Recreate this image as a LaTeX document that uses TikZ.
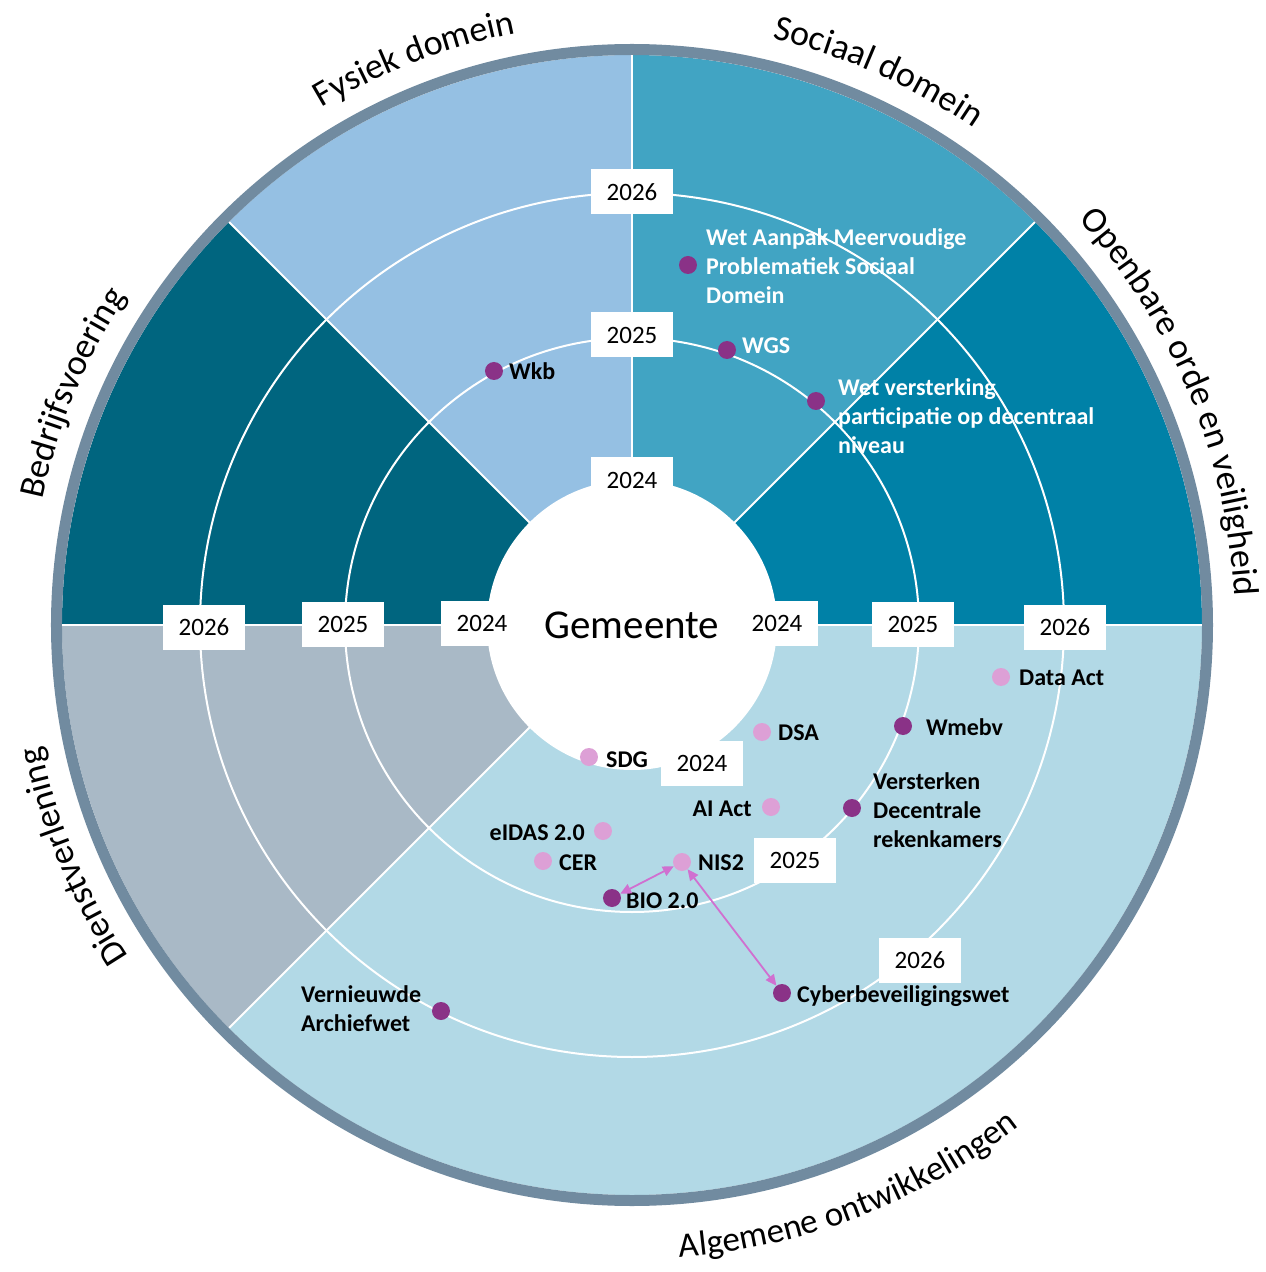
\documentclass[tikz,border=0pt]{standalone}
\usepackage{fontspec}
\setmainfont{Carlito}
\usetikzlibrary{arrows.meta,decorations.text}
\definecolor{cFys}{HTML}{95C0E3}
\definecolor{cSoc}{HTML}{41A4C3}
\definecolor{cOov}{HTML}{0081A7}
\definecolor{cBed}{HTML}{00657F}
\definecolor{cDie}{HTML}{A9B9C6}
\definecolor{cAlg}{HTML}{B2D9E6}
\definecolor{cRing}{HTML}{718BA0}
\definecolor{cDot}{HTML}{8A3287}
\definecolor{cPink}{HTML}{DDA0D6}
\definecolor{cArr}{HTML}{D070D0}
\begin{document}
\begin{tikzpicture}[x=1pt,y=1pt,
  yearbox/.style={fill=white, minimum width=82pt, minimum height=45pt, inner sep=0pt, font=\fontsize{25}{29}\selectfont},
  dotd/.style={circle, fill=cDot, minimum size=18pt, inner sep=0pt},
  dotp/.style={circle, fill=cPink, minimum size=18pt, inner sep=0pt},
  labone/.style={inner sep=0pt, font=\bfseries\fontsize{24}{29}\selectfont, text height=16pt, text depth=0pt},
  labmulti/.style={inner sep=0pt, font=\bfseries\fontsize{24}{29}\selectfont, align=left},
  divider/.style={white, line width=2pt},
  arr/.style={cArr, line width=1.8pt, {Triangle[length=11pt,width=10pt]}-{Triangle[length=11pt,width=10pt]}},
  outerlbl/.style={decorate, decoration={text along path, text align=center, text color=black, text={|\fontsize{36}{40}\selectfont|#1}}},
  outerlblb/.style={decorate, decoration={text along path, text align=center, text color=black, text={|\fontsize{35}{40}\selectfont|#1}}}
]
\useasboundingbox (-632,-647) rectangle (634,625);
% sectors
\fill[cOov] (0,0) -- (0:570) arc[start angle=0, end angle=45, radius=570] -- cycle;
\fill[cSoc] (0,0) -- (45:570) arc[start angle=45, end angle=90, radius=570] -- cycle;
\fill[cFys] (0,0) -- (90:570) arc[start angle=90, end angle=135, radius=570] -- cycle;
\fill[cBed] (0,0) -- (135:570) arc[start angle=135, end angle=180, radius=570] -- cycle;
\fill[cDie] (0,0) -- (180:570) arc[start angle=180, end angle=225, radius=570] -- cycle;
\fill[cAlg] (0,0) -- (225:570) arc[start angle=225, end angle=360, radius=570] -- cycle;
\foreach \a in {0,45,90,135,180,225} \draw[divider] (\a:140) -- (\a:570);
\draw[divider] (0,0) circle[radius=287];
\draw[divider] (0,0) circle[radius=432];
\fill[white] (0,0) circle[radius=145];
\draw[cRing, line width=11pt] (0,0) circle[radius=575.5];
% outer labels
\path[outerlbl={Fysiek domein}] (133.5:603) arc[start angle=133.5, end angle=88.5, radius=603];
\path[outerlbl={Sociaal domein}] (88.5:603) arc[start angle=88.5, end angle=43.5, radius=603];
\path[outerlbl={Openbare orde en veiligheid}] (45:603) arc[start angle=45, end angle=0, radius=603];
\path[outerlbl={Bedrijfsvoering}] (180:603) arc[start angle=180, end angle=135, radius=603];
\path[outerlbl={Dienstverlening}] (225:603) arc[start angle=225, end angle=180, radius=603];
\path[outerlblb={Algemene ontwikkelingen}] (223.5:634) arc[start angle=223.5, end angle=358.5, radius=634];
% centre
\node[font=\fontsize{41}{48}\selectfont, inner sep=0pt] (gem) at (0,0) {Gemeente};
% year boxes
\node[yearbox] (t26) at (0,433) {2026};
\node[yearbox] (t25) at (0,290) {2025};
\node[yearbox] (t24) at (0,145) {2024};
\node[yearbox] (l26) at (-428,-2) {2026};
\node[yearbox] (l25) at (-289,1) {2025};
\node[yearbox] (l24) at (-150,2) {2024};
\node[yearbox] (r24) at (145,2) {2024};
\node[yearbox] (r25) at (281,1) {2025};
\node[yearbox] (r26) at (433,-2) {2026};
\node[yearbox] (d24) at (70,-138) {2024};
\node[yearbox] (d25) at (163,-235) {2025};
\node[yearbox] (d26) at (288,-335) {2026};
% dots
\node[dotd] (wkb) at (-138,254) {};
\node[dotd] (wmpsd) at (56,360) {};
\node[dotd] (wgs) at (95,275) {};
\node[dotd] (wvp) at (184,224) {};
\node[dotd] (wmebv) at (271,-101) {};
\node[dotd] (vers) at (220,-183) {};
\node[dotd] (bio) at (-20,-273) {};
\node[dotd] (cyber) at (150,-368) {};
\node[dotd] (arch) at (-191,-386) {};
\node[dotp] (data) at (369,-52) {};
\node[dotp] (dsa) at (130,-107) {};
\node[dotp] (sdg) at (-43,-132) {};
\node[dotp] (ai) at (139,-182) {};
\node[dotp] (eidas) at (-29,-206) {};
\node[dotp] (cer) at (-89,-236) {};
\node[dotp] (nis) at (50,-237) {};
% labels
\node[labone, anchor=west] (wkbT) at (-123,253) {Wkb};
\node[labone, anchor=west, text=white] (wgsT) at (110,279) {WGS};
\node[labmulti, anchor=west, text=white] (wmpsdT) at (74,359) {Wet Aanpak Meervoudige\\Problematiek Sociaal\\Domein};
\node[labmulti, anchor=west, text=white] (wvpT) at (206,209) {Wet versterking\\participatie op decentraal\\niveau};
\node[labone, anchor=west] (wmebvT) at (294,-102) {Wmebv};
\node[labmulti, anchor=west] (versT) at (241,-185) {Versterken\\Decentrale\\rekenkamers};
\node[labone, anchor=west] (bioT) at (-6,-275) {BIO 2.0};
\node[labone, anchor=west] (cyberT) at (165,-369) {Cyberbeveiligingswet};
\node[labmulti, anchor=west] (archT) at (-331,-383.5) {Vernieuwde\\Archiefwet};
\node[labone, anchor=west] (dataT) at (387,-52) {Data Act};
\node[labone, anchor=west] (dsaT) at (146,-107) {DSA};
\node[labone, anchor=west] (sdgT) at (-26,-134) {SDG};
\node[labone, anchor=east] (aiT) at (120,-183) {AI Act};
\node[labone, anchor=east] (eidasT) at (-47,-207) {eIDAS 2.0};
\node[labone, anchor=west] (cerT) at (-73,-237) {CER};
\node[labone, anchor=west] (nisT) at (66,-237) {NIS2};
% arrows
\draw[arr] (bio) -- (nis);
\draw[arr] (nis) -- (cyber);
\end{tikzpicture}
\end{document}
